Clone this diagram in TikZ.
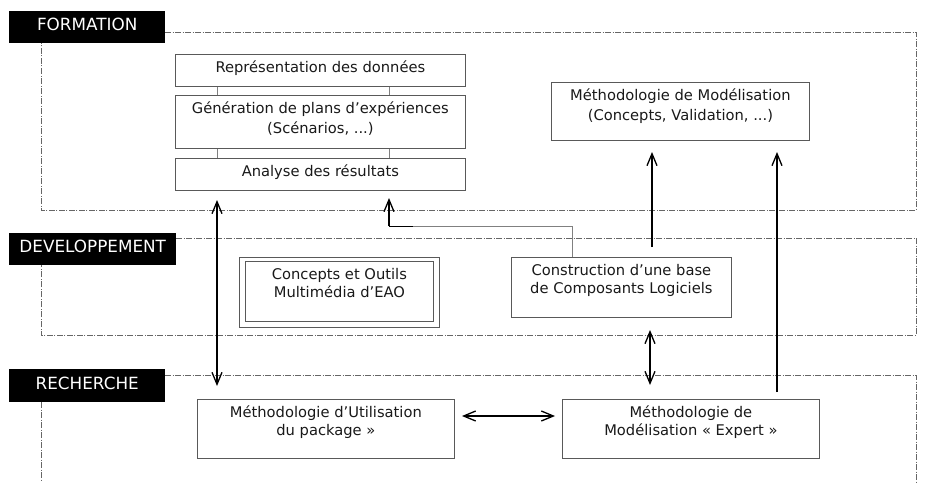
\documentclass[tikz,border=0pt]{standalone}
\usepackage{fontspec}
\setmainfont{DejaVu Sans}
\usetikzlibrary{arrows.meta}
\begin{document}
\begin{tikzpicture}[x=1pt,y=-1pt,
 >={Straight Barb[length=12pt,width=10pt]},
 frame/.style={draw=black!60, line width=0.75pt, dash pattern=on 6pt off 1.5pt on 1pt off 1.5pt},
 tag/.style={fill=black, text=white, font=\fontsize{16.8}{18}\selectfont, anchor=north west, inner sep=0pt, text depth=5pt},
 box/.style={draw=black!65, line width=0.8pt, anchor=north west, inner sep=0pt},
 txt/.style={anchor=north, inner sep=0pt, align=center, font=\fontsize{14.7}{18.5}\selectfont, text=black!90},
 link/.style={draw=black!50, line width=0.7pt},
 arr/.style={draw=black, line width=1.3pt},
]
\useasboundingbox (0,0) rectangle (933,482);

% section tags
\node[tag, minimum width=156pt, minimum height=32pt] (lf) at (9,11) {FORMATION};
\node[tag, minimum width=167pt, minimum height=32pt] (ld) at (9,233) {DEVELOPPEMENT};
\node[tag, minimum width=156pt, minimum height=33pt] (lr) at (9,369) {RECHERCHE};

% section frames
\draw[frame] (165,32) -- (916,32) -- (916,210) -- (41,210) -- (41,43);
\draw[frame] (176,238) -- (916,238) -- (916,335) -- (41,335) -- (41,265);
\draw[frame] (165,375) -- (916,375) -- (916,482);
\draw[frame] (41,402) -- (41,482);

% FORMATION boxes
\node[box, minimum width=290pt, minimum height=32pt] (rep) at (175,54) {};
\node[txt] (repT) at ([yshift=-7pt]rep.north) {Représentation des données};
\node[box, minimum width=290pt, minimum height=53pt] (gen) at (175,95) {};
\node[txt, font=\fontsize{14.7}{19.5}\selectfont] (genT) at ([yshift=-7pt]gen.north) {Génération de plans d’expériences\\(Scénarios, ...)};
\node[box, minimum width=290pt, minimum height=32pt] (ana) at (175,158) {};
\node[txt] (anaT) at ([yshift=-7pt]ana.north) {Analyse des résultats};

\draw[link] ([xshift=42pt]rep.south west) -- ([xshift=42pt]gen.north west);
\draw[link] ([xshift=214pt]rep.south west) -- ([xshift=214pt]gen.north west);
\draw[link] ([xshift=42pt]gen.south west) -- ([xshift=42pt]ana.north west);
\draw[link] ([xshift=214pt]gen.south west) -- ([xshift=214pt]ana.north west);

\node[box, minimum width=258pt, minimum height=58pt] (meth) at (551,82) {};
\node[txt, font=\fontsize{14.7}{19.5}\selectfont] (methT) at ([yshift=-7pt]meth.north) {Méthodologie de Modélisation\\(Concepts, Validation, ...)};

% DEVELOPPEMENT boxes
\node[box, minimum width=200pt, minimum height=70pt] (eaoOut) at (239,257) {};
\node[box, minimum width=188pt, minimum height=60pt] (eao) at (245,261) {};
\node[txt, font=\fontsize{14.7}{18}\selectfont] (eaoT) at ([yshift=-7.5pt]eao.north) {Concepts et Outils\\Multimédia d’EAO};

\node[box, minimum width=220pt, minimum height=60pt] (cons) at (511,257) {};
\node[txt, font=\fontsize{14.7}{18}\selectfont] (consT) at ([yshift=-7pt]cons.north) {Construction d’une base\\de Composants Logiciels};

% RECHERCHE boxes
\node[box, minimum width=257pt, minimum height=59pt] (util) at (197,399) {};
\node[txt, font=\fontsize{14.7}{18}\selectfont] (utilT) at ([yshift=-7pt]util.north) {Méthodologie d’Utilisation\\du package »};
\node[box, minimum width=257pt, minimum height=59pt] (expert) at (562,399) {};
\node[txt, font=\fontsize{14.7}{18}\selectfont] (expertT) at ([yshift=-7pt]expert.north) {Méthodologie de\\Modélisation « Expert »};

% connectors
\coordinate (a1t) at (217,200);
\coordinate (a1b) at (217,386);
\draw[arr,<->] (a1t) -- (a1b);

\coordinate (k1) at (413,226);
\coordinate (k2) at (389,226);
\coordinate (k3) at (389,198);
\draw[link] ([xshift=61pt]cons.north west) |- (k1);
\draw[draw=black, line width=0.9pt] (k1) -- (k2);
\draw[arr,->] (k2) -- (k3);

\coordinate (a3s) at (652,247);
\coordinate (a3t) at (652,152);
\draw[arr,->] (a3s) -- (a3t);

\coordinate (a4s) at (777,392);
\coordinate (a4t) at (777,152);
\draw[arr,->] (a4s) -- (a4t);

\coordinate (a5t) at (650,330);
\coordinate (a5b) at (650,385);
\draw[arr,<->] (a5t) -- (a5b);

\coordinate (a6l) at (462,416);
\coordinate (a6r) at (555,416);
\draw[arr,<->] (a6l) -- (a6r);
\end{tikzpicture}
\end{document}
